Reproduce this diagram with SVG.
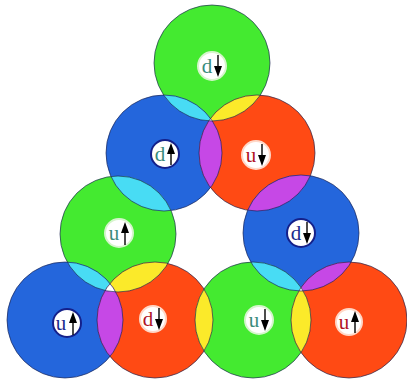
<svg xmlns="http://www.w3.org/2000/svg" width="407" height="379" viewBox="0 0 407 379">
<style>
.g{fill:#44ea30}.b{fill:#2466dc}.r{fill:#ff4a14}
.cy{fill:#48dcf4}.ye{fill:#fbea2a}.ma{fill:#c648e6}.wh{fill:#ffffff}
.ol{fill:none;stroke:#1a2250;stroke-width:0.9;stroke-opacity:0.75}
.lb{fill:#ffffff;stroke-width:2}
.lg{stroke:#d6f5cc}.lbb{stroke:#14208a}.lr{stroke:#ffd8c8}
.t{font-family:"Liberation Serif","DejaVu Serif",serif;font-size:21px;text-anchor:middle}
.tg{fill:#3a8c7c}.tb{fill:#1c2a8c}.tr{fill:#b01224}
.ar{stroke:#000;stroke-width:1.4;fill:none}
.ah{fill:#000}
</style>
<defs>
<circle id="cG1" cx="212" cy="63" r="58"/>
<circle id="cB2" cx="164" cy="153" r="58"/>
<circle id="cR2" cx="257" cy="153" r="58"/>
<circle id="cG3" cx="118" cy="234" r="58"/>
<circle id="cB3" cx="301" cy="233" r="58"/>
<circle id="cB4" cx="65" cy="320" r="58"/>
<circle id="cR4" cx="155" cy="320" r="58"/>
<circle id="cG4" cx="253" cy="320" r="58"/>
<circle id="cR5" cx="349" cy="320" r="58"/>
<clipPath id="kG1"><use href="#cG1"/></clipPath>
<clipPath id="kB2"><use href="#cB2"/></clipPath>
<clipPath id="kR2"><use href="#cR2"/></clipPath>
<clipPath id="kG3"><use href="#cG3"/></clipPath>
<clipPath id="kB3"><use href="#cB3"/></clipPath>
<clipPath id="kB4"><use href="#cB4"/></clipPath>
<clipPath id="kR4"><use href="#cR4"/></clipPath>
<clipPath id="kG4"><use href="#cG4"/></clipPath>
<clipPath id="kR5"><use href="#cR5"/></clipPath>
</defs>

<g id="circles">
<use href="#cG1" class="g"/>
<use href="#cB2" class="b"/>
<use href="#cR2" class="r"/>
<use href="#cG3" class="g"/>
<use href="#cB3" class="b"/>
<use href="#cB4" class="b"/>
<use href="#cR4" class="r"/>
<use href="#cG4" class="g"/>
<use href="#cR5" class="r"/>
</g>

<g id="overlaps">
<use href="#cG1" class="cy" clip-path="url(#kB2)"/>
<use href="#cG1" class="ye" clip-path="url(#kR2)"/>
<use href="#cB2" class="ma" clip-path="url(#kR2)"/>
<use href="#cB2" class="cy" clip-path="url(#kG3)"/>
<use href="#cR2" class="ma" clip-path="url(#kB3)"/>
<use href="#cG3" class="cy" clip-path="url(#kB4)"/>
<use href="#cG3" class="ye" clip-path="url(#kR4)"/>
<use href="#cB4" class="ma" clip-path="url(#kR4)"/>
<use href="#cR4" class="ye" clip-path="url(#kG4)"/>
<use href="#cB3" class="cy" clip-path="url(#kG4)"/>
<use href="#cB3" class="ma" clip-path="url(#kR5)"/>
<use href="#cG4" class="ye" clip-path="url(#kR5)"/>
<g clip-path="url(#kG1)"><use href="#cB2" class="wh" clip-path="url(#kR2)"/></g>
<g clip-path="url(#kG3)"><use href="#cB4" class="wh" clip-path="url(#kR4)"/></g>
<g clip-path="url(#kB3)"><use href="#cG4" class="wh" clip-path="url(#kR5)"/></g>
</g>

<g id="outlines">
<use href="#cG1" class="ol"/>
<use href="#cB2" class="ol"/>
<use href="#cR2" class="ol"/>
<use href="#cG3" class="ol"/>
<use href="#cB3" class="ol"/>
<use href="#cB4" class="ol"/>
<use href="#cR4" class="ol"/>
<use href="#cG4" class="ol"/>
<use href="#cR5" class="ol"/>
</g>

<g id="n1"><circle class="lb lg" cx="212" cy="66" r="14"/><text class="t tg" x="207" y="73">d</text><path class="ar" d="M218,55 V68"/><path class="ah" d="M214,66 L222,66 L218,77 Z"/></g>
<g id="n2"><circle class="lb lbb" cx="165" cy="154" r="14"/><text class="t tg" x="160" y="161">d</text><path class="ar" d="M171,152 V165"/><path class="ah" d="M171,143 L175,154 L167,154 Z"/></g>
<g id="n3"><circle class="lb lr" cx="256" cy="155" r="14"/><text class="t tr" x="251" y="162">u</text><path class="ar" d="M262,144 V157"/><path class="ah" d="M258,155 L266,155 L262,166 Z"/></g>
<g id="n4"><circle class="lb lg" cx="119" cy="233" r="14"/><text class="t tg" x="114" y="240">u</text><path class="ar" d="M125,231 V245"/><path class="ah" d="M125,222 L129,233 L121,233 Z"/></g>
<g id="n5"><circle class="lb lbb" cx="301" cy="233" r="14"/><text class="t tb" x="296" y="240">d</text><path class="ar" d="M307,222 V235"/><path class="ah" d="M303,233 L311,233 L307,244 Z"/></g>
<g id="n6"><circle class="lb lbb" cx="67" cy="323" r="14"/><text class="t tb" x="61" y="330">u</text><path class="ar" d="M73,321 V335"/><path class="ah" d="M73,312 L77,323 L69,323 Z"/></g>
<g id="n7"><circle class="lb lr" cx="153" cy="319" r="13"/><text class="t tr" x="148" y="326">d</text><path class="ar" d="M159,308 V321"/><path class="ah" d="M155,319 L163,319 L159,330 Z"/></g>
<g id="n8"><circle class="lb lg" cx="259" cy="320" r="14"/><text class="t tg" x="254" y="327">u</text><path class="ar" d="M265,309 V322"/><path class="ah" d="M261,320 L269,320 L265,331 Z"/></g>
<g id="n9"><circle class="lb lr" cx="349" cy="322" r="13"/><text class="t tr" x="344" y="329">u</text><path class="ar" d="M355,320 V333"/><path class="ah" d="M355,311 L359,322 L351,322 Z"/></g>
</svg>
